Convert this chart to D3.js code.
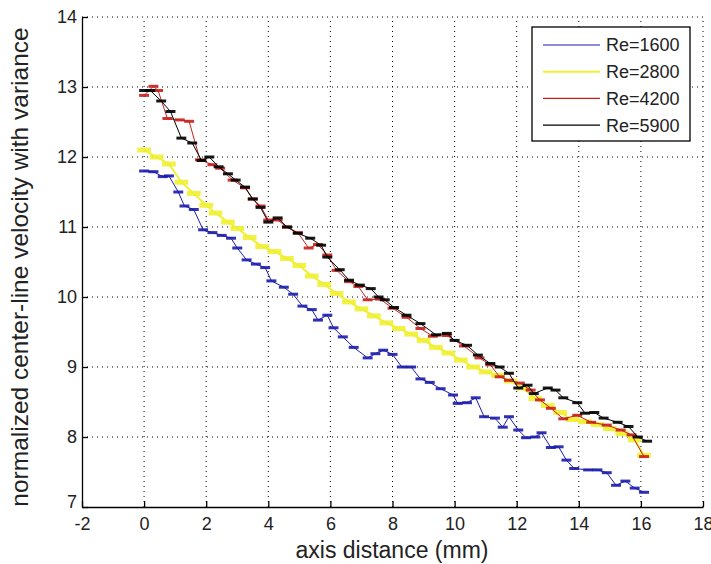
<!DOCTYPE html>
<html lang="en">
  <head>
    <meta charset="utf-8">
    <title>center-line velocity</title>
    <script src="https://cdn.jsdelivr.net/npm/d3@7"></script>
    <style>
      body { margin: 0; background: #fff; }
      text { font-family: 'Liberation Sans', Arial, sans-serif; }
    </style>
  </head>

  <body>
    <div id='chart'></div>

    <script type='text/javascript'>
      // values
      let re_labels = ['Re=1600', 'Re=2800', 'Re=4200', 'Re=5900']
      let colors = ['#1c1cac', '#f0f032', '#c8201c', '#000000']

      let x_1600 = [0, 0.3, 0.6, 0.8, 1.1, 1.3, 1.6, 1.9, 2.2, 2.5, 2.8, 3.0, 3.3, 3.6, 3.9, 4.1, 4.5, 4.8, 5.1, 5.4, 5.6, 5.9, 6.1, 6.4, 6.75, 7.2, 7.45, 7.7, 8.0, 8.3, 8.6, 8.9, 9.2, 9.55, 9.95, 10.1, 10.4, 10.68, 10.95, 11.3, 11.55, 11.75, 12.05, 12.3, 12.6, 12.8, 13.1, 13.35, 13.6, 13.85, 14.3, 14.6, 14.9, 15.2, 15.5, 15.8, 16.1]
      let y_1600 = [11.8, 11.79, 11.72, 11.73, 11.5, 11.3, 11.25, 10.96, 10.92, 10.88, 10.84, 10.7, 10.53, 10.47, 10.42, 10.23, 10.14, 10.04, 9.87, 9.82, 9.67, 9.74, 9.56, 9.43, 9.28, 9.13, 9.19, 9.24, 9.18, 9.0, 9.0, 8.83, 8.78, 8.69, 8.6, 8.48, 8.49, 8.56, 8.29, 8.27, 8.14, 8.29, 8.1, 7.99, 8.0, 8.06, 7.85, 7.86, 7.67, 7.55, 7.53, 7.53, 7.49, 7.31, 7.37, 7.27, 7.21]

      let x_2800 = [0, 0.4, 0.8, 1.2, 1.6, 2.0, 2.3, 2.7, 3.0, 3.4, 3.8, 4.2, 4.6, 5.0, 5.4, 5.8, 6.2, 6.6, 7.0, 7.4, 7.8, 8.2, 8.6, 9.0, 9.4, 9.8, 10.2, 10.6, 11.0, 11.4, 11.8, 12.2, 12.6, 13.0, 13.4, 13.8, 14.2, 14.6, 15.0, 15.4, 15.8, 16.1]
      let y_2800 = [12.1, 12.0, 11.9, 11.64, 11.48, 11.31, 11.2, 11.07, 10.98, 10.85, 10.72, 10.65, 10.55, 10.45, 10.3, 10.18, 10.05, 9.93, 9.83, 9.73, 9.63, 9.55, 9.47, 9.38, 9.28, 9.2, 9.1, 9.0, 8.93, 8.88, 8.8, 8.7, 8.55, 8.45, 8.35, 8.25, 8.22, 8.18, 8.12, 8.05, 7.96, 7.74]

      let x_4200 = [0, 0.3, 0.45, 0.75, 1.15, 1.45, 1.8, 2.2, 2.45, 2.85, 3.25, 3.5, 3.75, 4.0, 4.3, 4.6, 4.95, 5.3, 5.6, 5.9, 6.2, 6.6, 6.9, 7.2, 7.6, 8.0, 8.45, 8.9, 9.3, 9.75, 10.3, 10.8, 11.15, 11.45, 11.75, 12.1, 12.45, 12.75, 13.1, 13.5, 13.95, 14.4, 14.9, 15.35, 15.7, 16.1]
      let y_4200 = [12.88, 13.01, 12.95, 12.55, 12.53, 12.51, 11.96, 11.89, 11.84, 11.67, 11.56, 11.4, 11.3, 11.1, 11.1, 11.0, 10.92, 10.7, 10.75, 10.6, 10.38, 10.22, 10.15, 9.96, 9.97, 9.84, 9.71, 9.55, 9.44, 9.45, 9.3, 9.13, 9.03, 8.86, 8.81, 8.77, 8.67, 8.53, 8.41, 8.26, 8.31, 8.21, 8.17, 8.1, 8.03, 7.72]

      let x_5900 = [0, 0.2, 0.55, 0.85, 1.2, 1.55, 1.85, 2.1, 2.4, 2.7, 2.95, 3.25, 3.5, 3.75, 4.0, 4.3, 4.6, 4.95, 5.35, 5.7, 5.9, 6.3, 6.6, 6.95, 7.3, 7.55, 7.75, 8.05, 8.45, 8.9, 9.4, 9.75, 10.0, 10.4, 10.75, 11.15, 11.45, 11.75, 12.05, 12.35, 12.55, 13.0, 13.25, 13.5, 13.95, 14.2, 14.5, 14.8, 15.25, 15.6, 15.9, 16.2]
      let y_5900 = [12.95, 12.95, 12.8, 12.65, 12.27, 12.2, 11.95, 12.0, 11.86, 11.76, 11.67, 11.57, 11.4, 11.28, 11.07, 11.13, 11.0, 10.91, 10.84, 10.74, 10.57, 10.39, 10.24, 10.17, 10.12, 10.0, 9.96, 9.85, 9.74, 9.62, 9.46, 9.48, 9.38, 9.31, 9.17, 9.05, 9.0, 8.91, 8.7, 8.74, 8.62, 8.7, 8.67, 8.56, 8.49, 8.34, 8.35, 8.27, 8.21, 8.15, 8.0, 7.94]

      let x_ticks = [-2, 0, 2, 4, 6, 8, 10, 12, 14, 16, 18]
      let y_ticks = [7, 8, 9, 10, 11, 12, 13, 14]

      let series = [
        { label: re_labels[0], color: colors[0], xs: x_1600, ys: y_1600, thin: 1, thick: 3, half: 0.16 },
        { label: re_labels[1], color: colors[1], xs: x_2800, ys: y_2800, thin: 2, thick: 5, half: 0.22 },
        { label: re_labels[2], color: colors[2], xs: x_4200, ys: y_4200, thin: 1, thick: 3, half: 0.16 },
        { label: re_labels[3], color: colors[3], xs: x_5900, ys: y_5900, thin: 1, thick: 3, half: 0.16 }
      ]

      let width = 711
      let height = 564
      let svg = d3.select('#chart').append('svg')
        .attr('width', width)
        .attr('height', height)

      let scale_x = d3.scaleLinear().domain([-2, 18]).range([82, 703])
      let scale_y = d3.scaleLinear().domain([7, 14]).range([507, 17])

      // dotted grid
      let grid = svg.append('g')
        .attr('stroke', '#000')
        .attr('stroke-width', 1)
        .attr('stroke-dasharray', '1,4')
      grid.selectAll('.gx')
        .data(x_ticks.slice(1))
        .enter()
        .append('line')
        .attr('x1', (d) => scale_x(d)).attr('x2', (d) => scale_x(d))
        .attr('y1', scale_y(7)).attr('y2', scale_y(14))
      grid.selectAll('.gy')
        .data(y_ticks.slice(1))
        .enter()
        .append('line')
        .attr('x1', scale_x(-2)).attr('x2', scale_x(18))
        .attr('y1', (d) => scale_y(d)).attr('y2', (d) => scale_y(d))

      // data
      series.forEach((s) => {
        let pts = s.xs.map((x, i) => [x, s.ys[i]])
        let g = svg.append('g')
        g.append('path')
          .datum(pts)
          .attr('fill', 'none')
          .attr('stroke', s.color)
          .attr('stroke-width', s.thin)
          .attr('d', d3.line().x((d) => scale_x(d[0])).y((d) => scale_y(d[1])))
        g.selectAll('line')
          .data(pts)
          .enter()
          .append('line')
          .attr('x1', (d) => scale_x(d[0] - s.half))
          .attr('x2', (d) => scale_x(d[0] + s.half))
          .attr('y1', (d) => scale_y(d[1]))
          .attr('y2', (d) => scale_y(d[1]))
          .attr('stroke', s.color)
          .attr('stroke-width', s.thick)
          .attr('opacity', 0.9)
      })

      // axes, plain hyphen for negatives like the original
      let fmt = (d) => String(d)
      let ax_x = svg.append('g')
        .attr('transform', 'translate(0,' + scale_y(7) + ')')
        .call(d3.axisBottom(scale_x).tickValues(x_ticks).tickFormat(fmt).tickSize(-6).tickPadding(10).tickSizeOuter(0))
      let ax_y = svg.append('g')
        .attr('transform', 'translate(' + scale_x(-2) + ',0)')
        .call(d3.axisLeft(scale_y).tickValues(y_ticks).tickFormat(fmt).tickSize(-6).tickPadding(5).tickSizeOuter(0))
      svg.selectAll('.domain').attr('stroke', '#000').attr('stroke-width', 1.3)
      svg.selectAll('.tick line').attr('stroke', '#000').attr('stroke-width', 1.3)
      svg.selectAll('.tick text')
        .attr('font-family', "'Liberation Sans', Arial, sans-serif")
        .attr('font-size', '18px')
        .attr('fill', '#222')
      ax_y.selectAll('.tick text').filter((d) => d == 7).attr('dy', '0.05em')

      svg.append('text')
        .attr('x', 392)
        .attr('y', 558)
        .attr('text-anchor', 'middle')
        .attr('font-size', '23px')
        .attr('fill', '#222')
        .text('axis distance (mm)')
      svg.append('text')
        .attr('transform', 'translate(28,267) rotate(-90)')
        .attr('text-anchor', 'middle')
        .attr('font-size', '24.5px')
        .attr('fill', '#222')
        .text('normalized center-line velocity with variance')

      // legend
      let legend = svg.append('g')
      legend.append('rect')
        .attr('x', 532).attr('y', 27)
        .attr('width', 158).attr('height', 114)
        .attr('fill', '#fff')
        .attr('stroke', '#000')
        .attr('stroke-width', 1.3)
      let rows = legend.selectAll('.row')
        .data(series)
        .enter()
        .append('g')
        .attr('transform', (d, i) => 'translate(0,' + (45 + i * 26.7) + ')')
      rows.append('line')
        .attr('x1', 543).attr('x2', 600)
        .attr('stroke', (d) => d.color)
        .attr('stroke-width', (d, i) => i == 1 ? 2 : 1.2)
      rows.append('text')
        .attr('x', 606)
        .attr('dy', '0.36em')
        .attr('font-size', '18px')
        .attr('fill', '#222')
        .text((d) => d.label)
    </script>
  </body>
</html>
